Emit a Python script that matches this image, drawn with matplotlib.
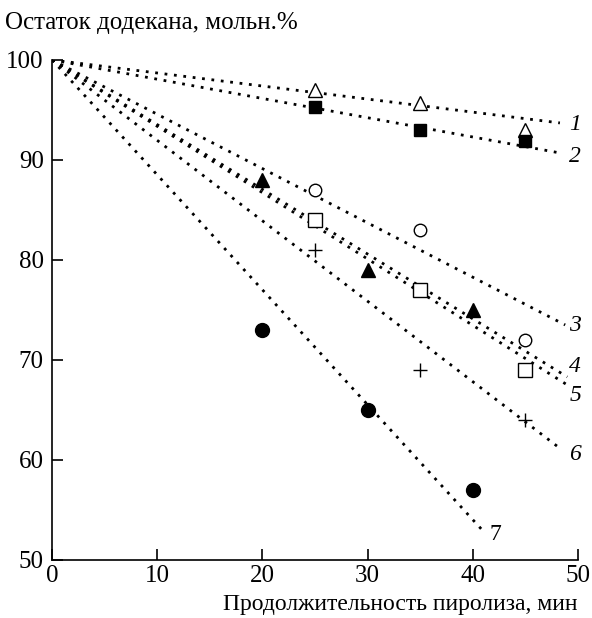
import matplotlib.pyplot as plt

plt.rcParams['font.family'] = ['Liberation Serif', 'DejaVu Serif']

# время пиролиза, мин и остаток додекана, мольн.%
x1 = [25, 35, 45]; y1 = [97, 95.7, 93]        # 1 - открытые треугольники
x2 = [25, 35, 45]; y2 = [95.3, 93, 91.9]      # 2 - закрашенные квадраты
x3 = [25, 35, 45]; y3 = [87, 83, 72]          # 3 - открытые круги
x4 = [25, 35, 45]; y4 = [84, 77, 69]          # 4 - открытые квадраты
x5 = [20, 30, 40]; y5 = [88, 79, 75]          # 5 - закрашенные треугольники
x6 = [25, 35, 45]; y6 = [81, 69, 64]          # 6 - плюсы
x7 = [20, 30, 40]; y7 = [73, 65, 57]          # 7 - закрашенные круги

# концы линий тренда (все начинаются в точке 0, 100)
line_end_x = [48.3, 48.3, 48.8, 49.0, 49.0, 48.5, 40.9]
line_end_y = [93.7, 90.7, 73.5, 68.3, 67.5, 61.0, 53.0]
line_labels = ['1', '2', '3', '4', '5', '6', '7']
label_y = [93.5, 90.3, 73.4, 69.3, 66.4, 60.5, 52.5]

fig = plt.figure(figsize=(5.92, 6.18), dpi=100)
ax = fig.add_axes([0.088, 0.094, 0.888, 0.809])

for xe, ye in zip(line_end_x, line_end_y):
    ax.plot([0, xe], [100, ye], color='black', lw=2.0, linestyle=(0, (1.0, 2.4)))

ax.plot(x1, y1, '^', ms=10, mfc='white', mec='black', mew=1.0, ls='none')
ax.plot(x2, y2, 's', ms=9, mfc='black', mec='black', ls='none')
ax.plot(x3, y3, 'o', ms=9, mfc='white', mec='black', mew=1.0, ls='none')
ax.plot(x4, y4, 's', ms=10, mfc='white', mec='black', mew=1.0, ls='none')
ax.plot(x5, y5, '^', ms=10, mfc='black', mec='black', ls='none')
ax.plot(x6, y6, '+', ms=10, mec='black', mew=1.0, ls='none')
ax.plot(x7, y7, 'o', ms=10, mfc='black', mec='black', ls='none')

for xe, ly, lab in zip(line_end_x, label_y, line_labels):
    if lab == '7':
        ax.text(xe + 0.7, ly, lab, fontsize=17, ha='left', va='center')
    else:
        ax.text(49.2, ly, lab, fontsize=17, style='italic',
                ha='left', va='center', clip_on=False)

ax.set_xlim(0, 50)
ax.set_ylim(50, 100)
ax.set_xticks([0, 10, 20, 30, 40, 50])
ax.set_yticks([50, 60, 70, 80, 90, 100])
ax.spines['top'].set_visible(False)
ax.spines['right'].set_visible(False)
ax.spines['left'].set_linewidth(1.2)
ax.spines['bottom'].set_linewidth(1.2)
ax.tick_params(direction='in', length=8, width=1.2, labelsize=18)
ax.tick_params(axis='y', pad=6)
ax.tick_params(axis='x', pad=4)

fig.text(0.008, 0.963, 'Остаток додекана, мольн.%', fontsize=18, ha='left', va='center')
fig.text(0.976, 0.022, 'Продолжительность пиролиза, мин', fontsize=17, ha='right', va='center')

fig.savefig('out.png', dpi=100)
